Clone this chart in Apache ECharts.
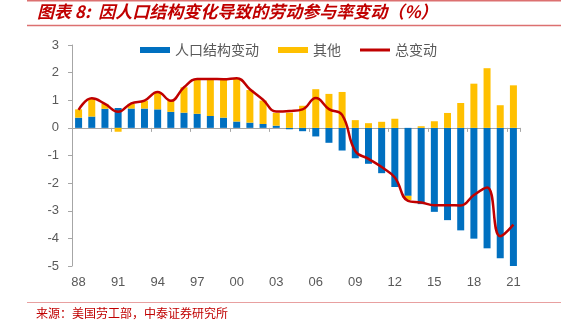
<!DOCTYPE html>
<html><head><meta charset="utf-8">
<script src="https://cdn.jsdelivr.net/npm/echarts@6/dist/echarts.min.js"></script>
<style>html,body{margin:0;padding:0;background:#fff}#c{width:561px;height:324px}</style>
</head><body><div id="c"></div>
<script>
const years = ['88','89','90','91','92','93','94','95','96','97','98','99','00','01','02','03','04','05','06','07','08','09','10','11','12','13','14','15','16','17','18','19','20','21'];
const structural = [0.37,0.41,0.69,0.72,0.70,0.70,0.67,0.58,0.55,0.51,0.43,0.37,0.23,0.19,0.14,0.08,-0.05,-0.12,-0.31,-0.54,-0.82,-1.10,-1.30,-1.64,-2.14,-2.46,-2.76,-3.04,-3.34,-3.71,-4.01,-4.36,-4.72,-5.04];
const other = [0.30,0.66,0.18,-0.14,0.17,0.28,0.63,0.40,0.92,1.26,1.33,1.38,1.54,1.18,0.85,0.46,0.55,0.80,1.40,1.23,1.30,0.28,0.17,0.22,0.33,-0.15,0.06,0.24,0.54,0.90,1.60,2.16,0.82,1.54];
const total = [0.65,1.07,0.87,0.58,0.89,0.99,1.30,0.98,1.47,1.77,1.77,1.76,1.80,1.40,1.02,0.59,0.61,0.67,1.08,0.68,0.47,-0.84,-1.12,-1.42,-1.80,-2.64,-2.70,-2.80,-2.80,-2.81,-2.43,-2.16,-3.92,-3.50];
const seriesNames = ['人口结构变动','其他','总变动'];
const titleText = '图表 8:  因人口结构变化导致的劳动参与率变动（%）';
const sourceText = '来源：美国劳工部，中泰证券研究所';

const chart = echarts.init(document.getElementById('c'), null, {renderer:'canvas'});
const numFont = '"Liberation Sans", Arial, sans-serif';
const cjkFont = '"Noto Sans CJK SC", sans-serif';
const axisGray = '#A6A6A6';
const labelGray = '#595959';
chart.setOption({
  animation: false,
  backgroundColor: '#fff',
  graphic: [
    {type:'line', shape:{x1:27,y1:0.75,x2:561,y2:0.75}, style:{stroke:'#DC7070',lineWidth:1.5}},
    {type:'line', shape:{x1:27,y1:25.5,x2:561,y2:25.5}, style:{stroke:'#DC7070',lineWidth:1.5}},
    {type:'line', shape:{x1:27,y1:302.5,x2:561,y2:302.5}, style:{stroke:'#E8A0A0',lineWidth:1}},
    {type:'text', left:37, top:3, style:{text:titleText, fill:'#C00000', font:'italic bold 17px "Noto Sans CJK SC", sans-serif'}},
    {type:'text', left:36, top:307, style:{text:sourceText, fill:'#C00000', font:'12px "Noto Sans CJK SC", serif'}}
  ],
  legend: {
    left: 135, top: 38,
    itemWidth: 30, itemHeight: 6, itemGap: 19,
    textStyle: {fontFamily: cjkFont, fontSize: 14, color: labelGray},
    data: [
      {name: seriesNames[0], icon: 'rect'},
      {name: seriesNames[1], icon: 'rect'},
      {name: seriesNames[2], icon: 'path://M0,0H30V3H0Z'}
    ]
  },
  grid: {left: 72, right: 41, top: 45, bottom: 58},
  xAxis: [
    {
      type: 'category', data: years, boundaryGap: true, position: 'bottom',
      axisLine: {onZero: true, lineStyle: {color: axisGray, width: 1}},
      axisTick: {show: true, interval: 2, length: 4, lineStyle: {color: axisGray}},
      axisLabel: {show: false}
    },
    {
      type: 'category', data: years, boundaryGap: true, position: 'bottom',
      axisLine: {show: false, onZero: false},
      axisTick: {show: false},
      axisLabel: {interval: 2, margin: 10, fontFamily: numFont, fontSize: 13, color: labelGray}
    }
  ],
  yAxis: {
    type: 'value', min: -5, max: 3, interval: 1,
    axisLine: {show: true, lineStyle: {color: axisGray}},
    axisTick: {show: true, length: 4, lineStyle: {color: axisGray}},
    splitLine: {show: false},
    axisLabel: {margin: 13, fontFamily: numFont, fontSize: 13, color: labelGray}
  },
  series: [
    {name: seriesNames[0], type: 'bar', stack: 'a', data: structural, barWidth: 7, itemStyle: {color: '#0070C0'}},
    {name: seriesNames[1], type: 'bar', stack: 'a', data: other, barWidth: 7, itemStyle: {color: '#FFC000'}},
    {name: seriesNames[2], type: 'line', data: total, smooth: 0.45, symbol: 'none', z: 5,
     lineStyle: {color: '#C00000', width: 2.5}, itemStyle: {color: '#C00000'}}
  ]
});
</script></body></html>
